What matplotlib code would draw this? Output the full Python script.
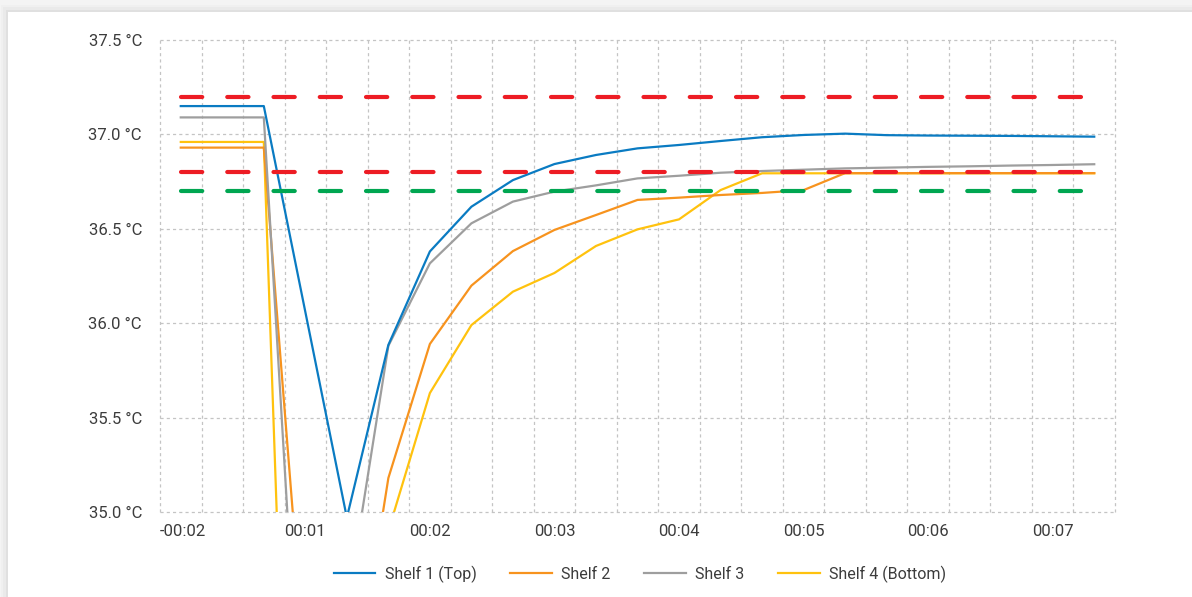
import matplotlib
matplotlib.use("Agg")
import matplotlib.pyplot as plt
from matplotlib.patches import Rectangle

plt.rcParams['font.family'] = ['Roboto', 'DejaVu Sans']

# time labels, one label every third category (gridlines at every category boundary)
time_labels = ["-00:02", "00:01", "00:02", "00:03", "00:04", "00:05", "00:06", "00:07"]
label_every = 3

# temperatures per category (readings below 35.0 fall outside the axis)
shelf1 = [37.15, 37.15, 37.15, 36.06, 34.97, 35.885, 36.38, 36.617, 36.758, 36.843,
          36.891, 36.926, 36.944, 36.965, 36.985, 36.997, 37.004, 36.996, 36.994,
          36.993, 36.992, 36.99, 36.988]
shelf2 = [36.93, 36.93, 36.93, 34.16, 33.79, 35.18, 35.89, 36.199, 36.382, 36.494,
          36.573, 36.653, 36.665, 36.679, 36.69, 36.705, 36.795, 36.795, 36.795,
          36.795, 36.795, 36.795, 36.795]
shelf3 = [37.09, 37.09, 37.09, 33.40, 34.49, 35.88, 36.317, 36.529, 36.644, 36.697,
          36.73, 36.767, 36.781, 36.797, 36.806, 36.813, 36.82, 36.824, 36.828,
          36.831, 36.835, 36.838, 36.842]
shelf4 = [36.96, 36.96, 36.96, 30.65, 32.8, 34.90, 35.63, 35.99, 36.167, 36.266,
          36.409, 36.497, 36.55, 36.705, 36.794, 36.794, 36.794, 36.794, 36.794,
          36.794, 36.794, 36.794, 36.794]

upper_limit = 37.2
lower_limit = 36.8
target_min = 36.7

y_ticks = [35.0, 35.5, 36.0, 36.5, 37.0, 37.5]

blue = '#0a7bc2'
orange = '#f7931e'
gray = '#9e9e9e'
yellow = '#ffc20e'
red = '#ed1c24'
green = '#00a651'
grid_col = '#c4c4c4'

fig = plt.figure(figsize=(11.92, 5.97), dpi=100, facecolor='#f4f4f4')
# card with a soft shadow
for i, a in enumerate([0.015, 0.025, 0.04]):
    fig.patches.append(Rectangle((8 / 1192 - (3 - i) * 0.002, 0), 1.0,
                                 1 - 12 / 597 + (3 - i) * 0.004,
                                 transform=fig.transFigure, facecolor='black',
                                 alpha=a, edgecolor='none', zorder=-10))
fig.patches.append(Rectangle((8 / 1192, 0), 1.0, 1 - 12 / 597,
                             transform=fig.transFigure, facecolor='white',
                             edgecolor='none', zorder=-9))

ax = fig.add_axes([160 / 1192, 1 - 512 / 597, 955 / 1192, 472 / 597])
ax.set_facecolor('none')
ax.set_zorder(5)

n = len(shelf1)
x = list(range(n))

ax.plot(x, shelf1, color=blue, lw=1.6, label='Shelf 1 (Top)', zorder=4)
ax.plot(x, shelf3, color=gray, lw=1.6, label='Shelf 3', zorder=3)
ax.plot(x, shelf4, color=yellow, lw=1.6, label='Shelf 4 (Bottom)', zorder=2)
ax.plot(x, shelf2, color=orange, lw=1.6, label='Shelf 2', zorder=2.5)

for val, col in [(upper_limit, red), (lower_limit, red), (target_min, green)]:
    ax.plot([x[0], x[-1]], [val, val], color=col, lw=3, dashes=(5.1, 6.0),
            dash_capstyle='round', zorder=5)

ax.set_xlim(-0.5, n - 0.5)
ax.set_ylim(35.0, 37.5)

bounds = [i - 0.5 for i in range(n + 1)]
for b in bounds:
    ax.axvline(b, color=grid_col, lw=0.9, ls=(0, (2.5, 2.5)), clip_on=False, zorder=1)
for v in y_ticks:
    ax.axhline(v, color=grid_col, lw=0.9, ls=(0, (2.5, 2.5)), clip_on=False, zorder=1)

ax.set_xticks(bounds[::label_every][:len(time_labels)])
ax.set_xticklabels(time_labels, ha='left')
ax.set_yticks(y_ticks)
ax.set_yticklabels([f"{v:.1f} °C" for v in y_ticks])

ax.tick_params(which='both', length=0, colors='#3c3c3c', labelsize=12)
ax.tick_params(axis='x', pad=9)
ax.tick_params(axis='y', pad=13)
for s in ax.spines.values():
    s.set_visible(False)

handles, labels = ax.get_legend_handles_labels()
order = ['Shelf 1 (Top)', 'Shelf 2', 'Shelf 3', 'Shelf 4 (Bottom)']
hmap = dict(zip(labels, handles))
leg = fig.legend([hmap[k] for k in order], order, loc='center',
                 bbox_to_anchor=(640 / 1192, 1 - 574 / 597), ncol=4, frameon=False,
                 handlelength=2.6, handletextpad=0.6, columnspacing=2.1,
                 fontsize=11.5, labelcolor='#3c3c3c')

fig.savefig('out.png', dpi=100, facecolor=fig.get_facecolor())
